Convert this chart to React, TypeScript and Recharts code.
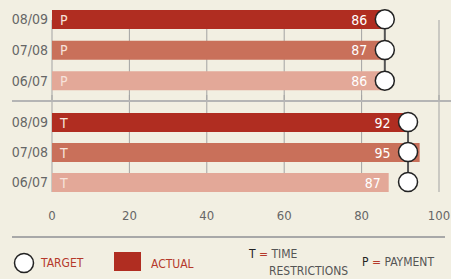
import React from 'react';
import {
  ComposedChart,
  Bar,
  Line,
  XAxis,
  YAxis,
  CartesianGrid,
  Cell,
  LabelList,
} from 'recharts';

const PERIODS = ['08/09', '07/08', '06/07'];
const PAYMENT_ACTUAL = [86, 87, 86];
const PAYMENT_TARGET = [86, 86, 86];
const TIME_ACTUAL = [92, 95, 87];
const TIME_TARGET = [92, 92, 92];
const X_TICKS = [0, 20, 40, 60, 80, 100];

const BAR_COLORS = ['#b02d21', '#c9705a', '#e3a898'];
const BG = '#f2efe2';
const RED = '#b5392b';
const FONT = "'DejaVu Sans Condensed', 'Liberation Sans Narrow', sans-serif";

const toRows = (actual: number[], target: number[]) =>
  PERIODS.map((period, i) => ({ period, actual: actual[i], target: target[i] }));

const makeLabel = (letter: string, targets: number[]) => (props: any) => {
  const { x, y, width, height, value, index } = props;
  if (x == null || !value) return null;
  const targetX = x + (width * targets[index]) / value;
  const right = Math.min(x + width, targetX - 9.5) - 8;
  const cy = y + height / 2;
  return (
    <g>
      <text x={x + 8} y={cy} dy={5} fill="#f7e2da" fontSize={14} fontFamily={FONT}>
        {letter}
      </text>
      <text x={right} y={cy} dy={5} fill="#fff" fontSize={14} textAnchor="end" fontFamily={FONT}>
        {value}
      </text>
    </g>
  );
};

const GroupChart = ({
  actual,
  target,
  letter,
  height,
  marginTop,
  padding,
  showX,
}: {
  actual: number[];
  target: number[];
  letter: string;
  height: number;
  marginTop: number;
  padding: { top: number; bottom: number };
  showX: boolean;
}) => {
  const rows = toRows(actual, target);
  return (
    <ComposedChart
      width={451}
      height={height}
      data={rows}
      layout="vertical"
      margin={{ top: marginTop, right: 12, bottom: 0, left: 0 }}
    >
      <CartesianGrid horizontal={false} stroke="#a3a3a3" strokeWidth={1} />
      <XAxis
        type="number"
        domain={[0, 100]}
        ticks={X_TICKS}
        hide={!showX}
        axisLine={false}
        tickLine={false}
        tickSize={0}
        tickMargin={19}
        height={showX ? 30 : 0}
        tick={{ fill: '#666', fontSize: 13, fontFamily: FONT }}
        interval={0}
      />
      <YAxis
        type="category"
        dataKey="period"
        width={52}
        axisLine={false}
        tickLine={false}
        tickSize={0}
        tickMargin={4}
        padding={padding}
        tick={{ fill: '#666', fontSize: 14, fontFamily: FONT }}
      />
      <Bar dataKey="actual" barSize={19} isAnimationActive={false}>
        {rows.map((_r, i) => (
          <Cell key={`c-${i}`} fill={BAR_COLORS[i]} />
        ))}
        <LabelList dataKey="actual" content={makeLabel(letter, target)} />
      </Bar>
      <Line
        dataKey="target"
        stroke="#555"
        strokeWidth={2}
        dot={{ r: 9.5, fill: '#fff', stroke: '#222', strokeWidth: 1.5 }}
        activeDot={false}
        isAnimationActive={false}
      />
    </ComposedChart>
  );
};

const legendText: React.CSSProperties = {
  position: 'absolute',
  fontSize: 12,
  lineHeight: '16px',
  fontFamily: FONT,
  whiteSpace: 'nowrap',
};

export default function App() {
  return (
    <div
      style={{
        position: 'absolute',
        left: 0,
        top: 0,
        width: 451,
        height: 279,
        background: BG,
        overflow: 'hidden',
        fontFamily: FONT,
      }}
    >
      <div style={{ position: 'absolute', left: 0, top: 0 }}>
        <GroupChart
          actual={PAYMENT_ACTUAL}
          target={PAYMENT_TARGET}
          letter="P"
          height={100}
          marginTop={20}
          padding={{ top: -16, bottom: 4 }}
          showX={false}
        />
      </div>
      <div style={{ position: 'absolute', left: 0, top: 95 }}>
        <GroupChart
          actual={TIME_ACTUAL}
          target={TIME_TARGET}
          letter="T"
          height={127}
          marginTop={0}
          padding={{ top: 12, bottom: -5 }}
          showX={true}
        />
      </div>
      {/* separator between groups */}
      <div style={{ position: 'absolute', left: 12, top: 100, width: 439, height: 2, background: '#b5b5b5' }} />
      {/* bottom rule */}
      <div style={{ position: 'absolute', left: 12, top: 236, width: 433, height: 2, background: '#a8a8a8' }} />

      {/* legend */}
      <svg style={{ position: 'absolute', left: 13, top: 252 }} width={22} height={22}>
        <circle cx={11} cy={11} r={9.5} fill="#fff" stroke="#222" strokeWidth={1.5} />
      </svg>
      <span style={{ ...legendText, left: 41, top: 255, color: RED }}>TARGET</span>
      <div style={{ position: 'absolute', left: 114, top: 252, width: 27, height: 19, background: BAR_COLORS[0] }} />
      <span style={{ ...legendText, left: 151, top: 256, color: RED }}>ACTUAL</span>
      <span style={{ ...legendText, left: 249, top: 246, color: '#555' }}>
        <span style={{ color: '#222' }}>T</span> <span style={{ color: RED }}>=</span> TIME
      </span>
      <span style={{ ...legendText, left: 269, top: 263, color: '#555' }}>RESTRICTIONS</span>
      <span style={{ ...legendText, left: 362, top: 254, color: '#555' }}>
        <span style={{ color: '#222' }}>P</span> <span style={{ color: RED }}>=</span> PAYMENT
      </span>
    </div>
  );
}
